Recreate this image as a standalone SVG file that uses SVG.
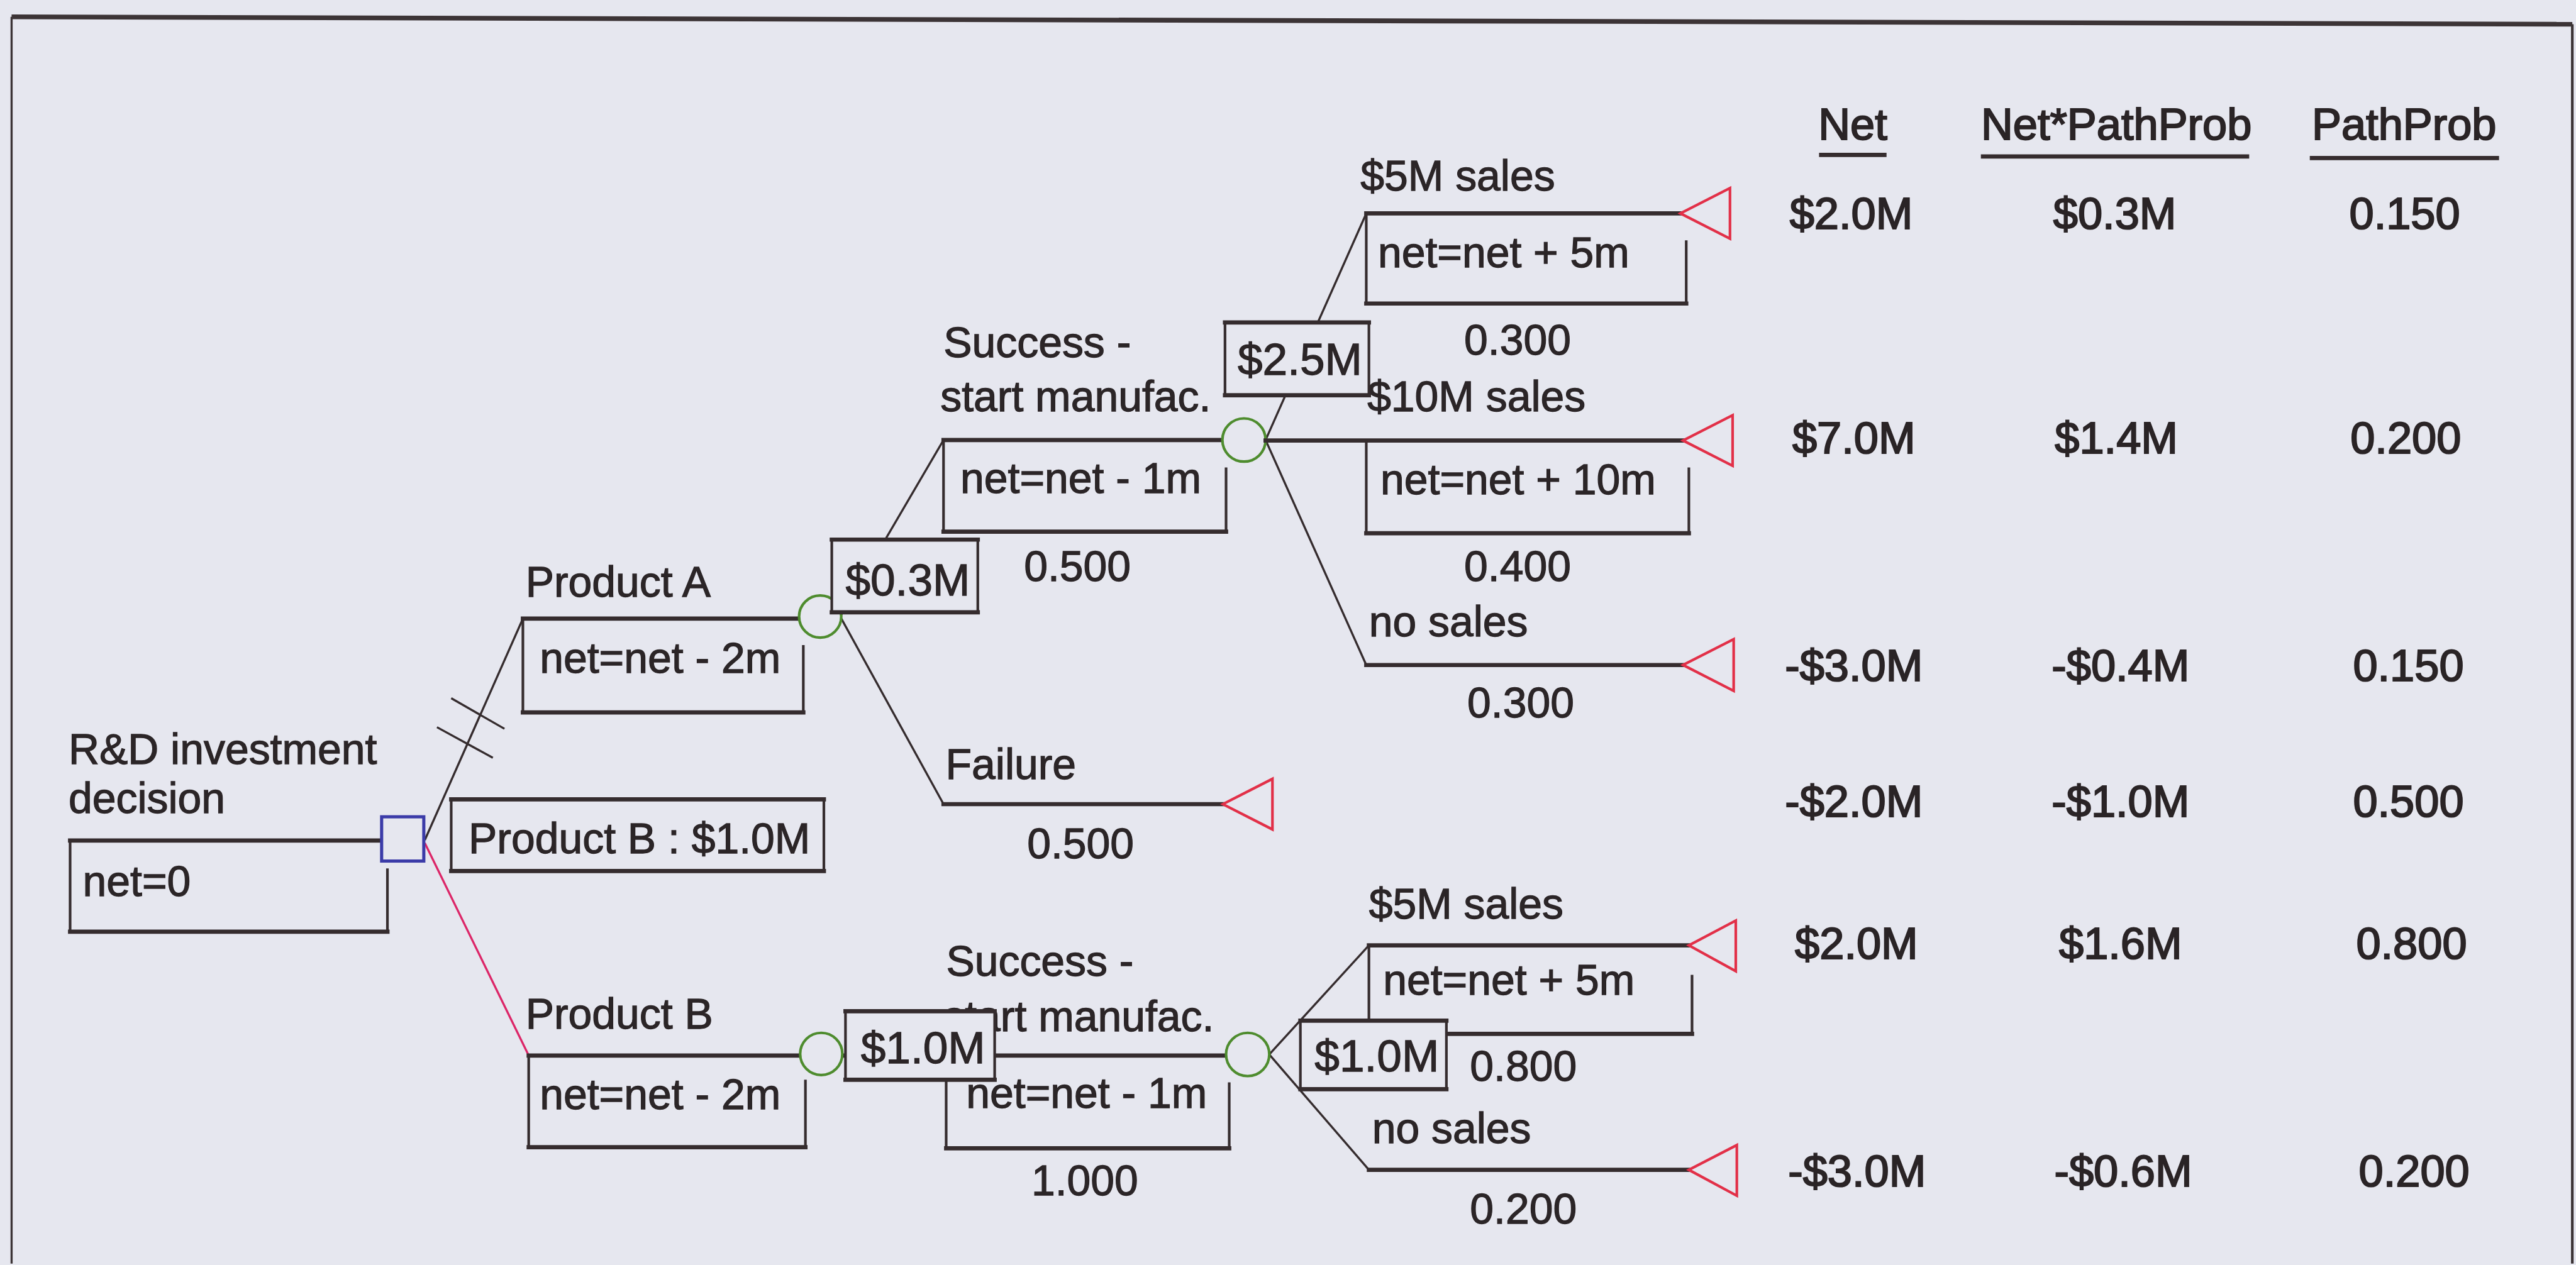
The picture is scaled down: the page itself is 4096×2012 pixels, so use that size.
<svg xmlns="http://www.w3.org/2000/svg" width="4096" height="2012" viewBox="0 0 4096 2012">
<style>
.t{font-family:"Liberation Sans",Arial,Helvetica,sans-serif;font-size:81px;fill:#2b2527;stroke:#2b2527;stroke-width:1.5}
.v{font-size:85px}
.m{text-anchor:middle}
.tb{font-family:"Liberation Sans",Arial,Helvetica,sans-serif;font-size:84px;fill:#2a2426;stroke:#2a2426;stroke-width:2.5;text-anchor:middle}
.h{stroke:#352c2e;stroke-width:8;fill:none;stroke-linecap:square}
.s{stroke:#352c2e;stroke-width:5;fill:none}
.d{stroke:#352c2e;stroke-width:4;fill:none}
.p{stroke:#dc2668;stroke-width:4;fill:none}
.box{fill:#e6e7ef;stroke:#352c2e;stroke-width:5}
.c{fill:#e6e7ef;stroke:#4e8c2e;stroke-width:5}
.tri{fill:none;stroke:#e23048;stroke-width:5;stroke-linejoin:miter}
</style>
<rect x="0" y="0" width="4096" height="2012" fill="#e6e7ef"/>
<g transform="scale(0.83814)">
<g id="frame">
<path d="M22 32 L4880 46" stroke="#3c3436" stroke-width="9" fill="none"/>
<path d="M22 32 L22 2398" stroke="#3c3436" stroke-width="4" fill="none"/>
<path d="M4880 46 L4880 2398" stroke="#3c3436" stroke-width="5" fill="none"/>
</g>
<g id="connectors">
<path class="d" d="M806 1594 L992 1174"/>
<path class="d" d="M856 1325 L957 1383 M829 1380 L935 1438"/>
<path class="p" d="M806 1600 L1003 2003"/>
<path class="d" d="M1594 1170 L1790 835"/>
<path class="d" d="M1594 1170 L1790 1526"/>
<path class="d" d="M2401 835 L2592 405"/>
<path class="d" d="M2401 835 L2592 1262"/>
<path class="h" d="M1598 2003 L2326 2003"/>
<path class="d" d="M2408 2001 L2597 1794"/>
<path class="d" d="M2408 2001 L2597 2220"/>
</g>
<g id="root">
<text class="t" x="130" y="1450">R&amp;D investment</text>
<text class="t" x="130" y="1543">decision</text>
<path class="h" d="M133 1595 L724 1595"/>
<path class="s" d="M133 1595 L133 1768 M735 1648 L735 1768"/>
<path class="h" d="M133 1768 L735 1768"/>
<text class="t" x="157" y="1700">net=0</text>
</g>
<g id="decision-node">
<rect x="724" y="1550" width="80" height="84" fill="#e6e7ef" stroke="#3b3ba8" stroke-width="6"/>
</g>
<g id="decision-value">
<rect class="box" x="856" y="1517" width="707" height="136"/>
<path class="h" d="M856 1517 L1563 1517 M856 1653 L1563 1653"/>
<text class="t" x="889" y="1619">Product B : $1.0M</text>
</g>
<g id="productA">
<path class="h" d="M992 1174 L1516 1174"/>
<text class="t" x="997" y="1132">Product A</text>
<path class="s" d="M992 1174 L992 1352 M1524 1224 L1524 1352"/>
<path class="h" d="M992 1352 L1524 1352"/>
<text class="t" x="1024" y="1277">net=net - 2m</text>
</g>
<g id="chanceA">
<circle class="c" cx="1556" cy="1170" r="40"/>
</g>
<g id="valueA">
<rect class="box" x="1578" y="1024" width="277" height="138"/>
<path class="h" d="M1578 1024 L1855 1024 M1578 1162 L1855 1162"/>
<text class="t v" x="1604" y="1130">$0.3M</text>
</g>
<g id="successA">
<path class="h" d="M1790 835 L2318 835"/>
<text class="t" x="1790" y="678">Success -</text>
<text class="t" x="1784" y="780">start manufac.</text>
<path class="s" d="M1790 835 L1790 1009 M2326 887 L2326 1009"/>
<path class="h" d="M1790 1009 L2326 1009"/>
<text class="t" x="1822" y="935">net=net - 1m</text>
<text class="t m" x="2044" y="1103">0.500</text>
</g>
<g id="failureA">
<path class="h" d="M1790 1526 L2320 1526"/>
<text class="t" x="1794" y="1478">Failure</text>
<polygon class="tri" points="2320,1526 2414,1478 2414,1574"/>
<text class="t m" x="2050" y="1629">0.500</text>
</g>
<g id="chanceA2">
<circle class="c" cx="2360" cy="835" r="41"/>
</g>
<g id="sales5A">
<path class="h" d="M2592 405 L3188 405"/>
<text class="t" x="2581" y="362">$5M sales</text>
<path class="s" d="M2592 405 L2592 576 M3199 456 L3199 576"/>
<path class="h" d="M2592 576 L3199 576"/>
<text class="t" x="2614" y="507">net=net + 5m</text>
<text class="t m" x="2879" y="673">0.300</text>
<polygon class="tri" points="3188,405 3282,357 3282,453"/>
</g>
<g id="sales10A">
<path class="h" d="M2401 836 L3193 836"/>
<text class="t" x="2594" y="780">$10M sales</text>
<path class="s" d="M2592 836 L2592 1012 M3204 887 L3204 1012"/>
<path class="h" d="M2592 1012 L3204 1012"/>
<text class="t" x="2619" y="938">net=net + 10m</text>
<text class="t m" x="2879" y="1103">0.400</text>
<polygon class="tri" points="3193,836 3287,788 3287,884"/>
</g>
<g id="valueA2">
<rect class="box" x="2324" y="612" width="273" height="138"/>
<path class="h" d="M2324 612 L2597 612 M2324 750 L2597 750"/>
<text class="t v" x="2348" y="711">$2.5M</text>
</g>
<g id="nosalesA">
<path class="h" d="M2592 1262 L3193 1262"/>
<text class="t" x="2597" y="1208">no sales</text>
<text class="t m" x="2885" y="1361">0.300</text>
<polygon class="tri" points="3193,1262 3289,1213 3289,1311"/>
</g>
<g id="productB">
<path class="h" d="M1003 2003 L1518 2003"/>
<text class="t" x="997" y="1952">Product B</text>
<path class="s" d="M1003 2003 L1003 2177 M1528 2049 L1528 2177"/>
<path class="h" d="M1003 2177 L1528 2177"/>
<text class="t" x="1024" y="2105">net=net - 2m</text>
</g>
<g id="chanceB">
<circle class="c" cx="1558" cy="2000" r="40"/>
</g>
<g id="successB">
<text class="t" x="1795" y="1852">Success -</text>
<text class="t" x="1790" y="1957">start manufac.</text>
<path class="s" d="M1795 2003 L1795 2179 M2332 2054 L2332 2179"/>
<path class="h" d="M1795 2179 L2332 2179"/>
<text class="t" x="1833" y="2102">net=net - 1m</text>
<text class="t m" x="2058" y="2268">1.000</text>
</g>
<g id="valueB">
<rect class="box" x="1604" y="1919" width="283" height="130"/>
<path class="h" d="M1604 1919 L1887 1919 M1604 2049 L1887 2049"/>
<text class="t v" x="1633" y="2018">$1.0M</text>
</g>
<g id="chanceB2">
<circle class="c" cx="2367" cy="2001" r="41"/>
</g>
<g id="sales5B">
<path class="h" d="M2597 1794 L3204 1794"/>
<text class="t" x="2597" y="1743">$5M sales</text>
<path class="s" d="M2597 1794 L2597 1962 M3210 1850 L3210 1962"/>
<path class="h" d="M2597 1962 L3210 1962"/>
<text class="t" x="2624" y="1888">net=net + 5m</text>
<text class="t m" x="2890" y="2051">0.800</text>
<polygon class="tri" points="3204,1794 3293,1747 3293,1843"/>
</g>
<g id="valueB2">
<rect class="box" x="2467" y="1937" width="277" height="130"/>
<path class="h" d="M2467 1937 L2744 1937 M2467 2067 L2744 2067"/>
<text class="t v" x="2494" y="2033">$1.0M</text>
</g>
<g id="nosalesB">
<path class="h" d="M2597 2220 L3204 2220"/>
<text class="t" x="2603" y="2169">no sales</text>
<text class="t m" x="2890" y="2322">0.200</text>
<polygon class="tri" points="3204,2220 3295,2173 3295,2269"/>
</g>
<g id="table">
<text class="tb" x="3515" y="265">Net</text>
<text class="tb" x="4015" y="265">Net*PathProb</text>
<text class="tb" x="4561" y="265">PathProb</text>
<path class="h" d="M3455 294 L3575 294 M3762 297 L4263 297 M4386 300 L4737 300"/>
<text class="tb" x="3512" y="434">$2.0M</text>
<text class="tb" x="4012" y="434">$0.3M</text>
<text class="tb" x="4562" y="434">0.150</text>
<text class="tb" x="3517" y="860">$7.0M</text>
<text class="tb" x="4015" y="860">$1.4M</text>
<text class="tb" x="4564" y="860">0.200</text>
<text class="tb" x="3517" y="1292">-$3.0M</text>
<text class="tb" x="4023" y="1292">-$0.4M</text>
<text class="tb" x="4569" y="1292">0.150</text>
<text class="tb" x="3517" y="1550">-$2.0M</text>
<text class="tb" x="4023" y="1550">-$1.0M</text>
<text class="tb" x="4569" y="1550">0.500</text>
<text class="tb" x="3522" y="1820">$2.0M</text>
<text class="tb" x="4023" y="1820">$1.6M</text>
<text class="tb" x="4575" y="1820">0.800</text>
<text class="tb" x="3523" y="2251">-$3.0M</text>
<text class="tb" x="4028" y="2251">-$0.6M</text>
<text class="tb" x="4580" y="2251">0.200</text>
</g>
</g>
</svg>
